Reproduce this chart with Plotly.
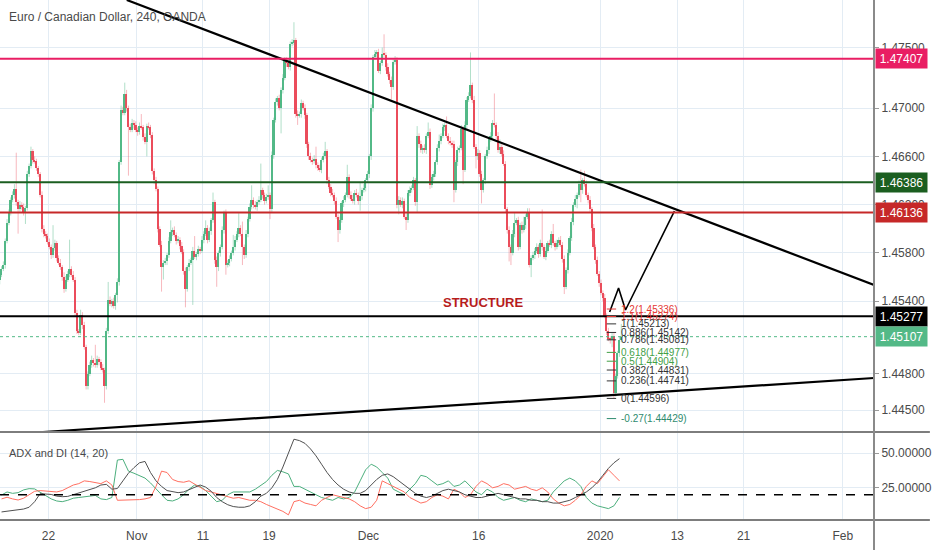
import plotly.graph_objects as go

# ---------------- data (4h bars, EUR/CAD) ----------------
first_open = 1.4558
close = [
    1.4562, 1.4567, 1.4570, 1.4590, 1.4605, 1.4614, 1.4624, 1.4628, 1.4633, 1.4622, 1.4616, 1.4620,
    1.4618, 1.4614, 1.4617, 1.4645, 1.4652, 1.4664, 1.4657, 1.4656, 1.4650, 1.4645, 1.4628, 1.4600,
    1.4596, 1.4594, 1.4589, 1.4585, 1.4578, 1.4584, 1.4588, 1.4576, 1.4572, 1.4568, 1.4560, 1.4550,
    1.4558, 1.4563, 1.4567, 1.4562, 1.4558, 1.4530, 1.4515, 1.4514, 1.4529, 1.4520, 1.4502, 1.4470,
    1.4480, 1.4487, 1.4491, 1.4489, 1.4487, 1.4492, 1.4490, 1.4485, 1.4483, 1.4470, 1.4515, 1.4541,
    1.4538, 1.4540, 1.4536, 1.4545, 1.4556, 1.4655, 1.4698, 1.4696, 1.4712, 1.4700, 1.4684, 1.4682,
    1.4688, 1.4686, 1.4682, 1.4680, 1.4685, 1.4684, 1.4676, 1.4672, 1.4685, 1.4684, 1.4678, 1.4648,
    1.4640, 1.4633, 1.4600, 1.4587, 1.4568, 1.4572, 1.4573, 1.4578, 1.4590, 1.4597, 1.4599, 1.4595,
    1.4590, 1.4591, 1.4586, 1.4581, 1.4565, 1.4550, 1.4568, 1.4572, 1.4574, 1.4582, 1.4577, 1.4579,
    1.4583, 1.4582, 1.4591, 1.4596, 1.4601, 1.4591, 1.4598, 1.4607, 1.4622, 1.4574, 1.4568, 1.4580,
    1.4585, 1.4599, 1.4613, 1.4570, 1.4572, 1.4575, 1.4580, 1.4585, 1.4591, 1.4596, 1.4601, 1.4596,
    1.4585, 1.4578, 1.4596, 1.4608, 1.4618, 1.4624, 1.4620, 1.4618, 1.4622, 1.4624, 1.4632, 1.4628,
    1.4623, 1.4626, 1.4628, 1.4616, 1.4661, 1.4690, 1.4705, 1.4708, 1.4700, 1.4715, 1.4725, 1.4740,
    1.4737, 1.4734, 1.4753, 1.4754, 1.4756, 1.4695, 1.4694, 1.4695, 1.4704, 1.4700, 1.4694, 1.4670,
    1.4660, 1.4657, 1.4656, 1.4658, 1.4653, 1.4650, 1.4649, 1.4657, 1.4660, 1.4664, 1.4640, 1.4635,
    1.4630, 1.4628, 1.4623, 1.4610, 1.4599, 1.4607, 1.4621, 1.4624, 1.4628, 1.4643, 1.4628, 1.4625,
    1.4623, 1.4630, 1.4628, 1.4623, 1.4627, 1.4632, 1.4634, 1.4640, 1.4645, 1.4660, 1.4700, 1.4742,
    1.4745, 1.4746, 1.4731, 1.4737, 1.4745, 1.4744, 1.4734, 1.4728, 1.4723, 1.4717, 1.4738, 1.4740,
    1.4620, 1.4624, 1.4620, 1.4623, 1.4610, 1.4607, 1.4630, 1.4632, 1.4634, 1.4640, 1.4622, 1.4677,
    1.4670, 1.4665, 1.4667, 1.4665, 1.4677, 1.4680, 1.4636, 1.4643, 1.4645, 1.4655, 1.4667, 1.4673,
    1.4677, 1.4684, 1.4686, 1.4677, 1.4673, 1.4671, 1.4670, 1.4632, 1.4655, 1.4665, 1.4667, 1.4683,
    1.4649, 1.4686, 1.4707, 1.4710, 1.4719, 1.4707, 1.4668, 1.4660, 1.4663, 1.4645, 1.4632, 1.4640,
    1.4660, 1.4665, 1.4674, 1.4677, 1.4688, 1.4686, 1.4677, 1.4665, 1.4668, 1.4662, 1.4654, 1.4616,
    1.4599, 1.4585, 1.4580, 1.4596, 1.4605, 1.4607, 1.4585, 1.4603, 1.4599, 1.4603, 1.4610, 1.4614,
    1.4570, 1.4576, 1.4578, 1.4582, 1.4585, 1.4579, 1.4588, 1.4585, 1.4577, 1.4582, 1.4588, 1.4587,
    1.4596, 1.4588, 1.4585, 1.4588, 1.4591, 1.4587, 1.4575, 1.4552, 1.4566, 1.4580, 1.4592, 1.4606,
    1.4620, 1.4625, 1.4628, 1.4637, 1.4632, 1.4640, 1.4637, 1.4628, 1.4624, 1.4616, 1.4601, 1.4585,
    1.4574, 1.4563, 1.4555, 1.4547, 1.4543, 1.4528, 1.4515, 1.4509, 1.4508, 1.4511, 1.4464, 1.4478,
    1.4497, 1.4508, 1.45107,
]
# wick lengths beyond the body, in pips (0.0001)
wick_up_pips = [
    3, 2, 3, 2, 3, 2, 2, 3, 4, 30, 2, 3,
    2, 3, 2, 3, 2, 4, 2, 3, 2, 2, 2, 3,
    3, 2, 2, 3, 2, 19, 3, 2, 2, 3, 2, 4,
    3, 2, 24, 2, 3, 2, 3, 2, 4, 2, 3, 2,
    2, 3, 4, 2, 15, 3, 2, 2, 3, 2, 3, 15,
    3, 2, 3, 2, 3, 2, 4, 3, 9, 3, 2, 3,
    3, 2, 3, 2, 3, 10, 2, 3, 2, 3, 2, 2,
    2, 3, 2, 2, 3, 2, 3, 2, 3, 10, 2, 3,
    2, 3, 2, 3, 2, 3, 2, 3, 2, 3, 12, 2,
    3, 2, 3, 2, 6, 2, 3, 2, 8, 2, 3, 2,
    2, 3, 2, 3, 2, 3, 2, 10, 3, 2, 12, 2,
    10, 2, 3, 2, 3, 12, 2, 3, 2, 3, 22, 2,
    2, 3, 8, 2, 3, 2, 3, 2, 3, 2, 3, 2,
    2, 3, 2, 3, 15, 2, 3, 2, 3, 2, 3, 2,
    2, 3, 2, 3, 10, 2, 3, 2, 3, 8, 2, 3,
    2, 3, 2, 3, 2, 3, 2, 3, 2, 10, 2, 3,
    3, 2, 3, 2, 12, 2, 3, 2, 3, 2, 3, 2,
    3, 2, 3, 2, 5, 16, 2, 3, 2, 3, 2, 3,
    2, 3, 2, 3, 2, 3, 2, 3, 2, 3, 2, 8,
    2, 3, 2, 3, 2, 8, 3, 2, 3, 2, 3, 5,
    2, 3, 2, 7, 2, 3, 2, 3, 2, 3, 2, 3,
    2, 3, 2, 3, 27, 2, 3, 2, 3, 2, 3, 2,
    2, 3, 2, 3, 2, 24, 2, 3, 6, 2, 3, 2,
    2, 3, 2, 3, 8, 2, 3, 2, 3, 7, 2, 3,
    3, 2, 3, 2, 3, 2, 3, 28, 2, 3, 2, 3,
    2, 8, 2, 3, 2, 3, 2, 3, 2, 3, 2, 3,
    2, 3, 2, 3, 12, 2, 8, 3, 2, 3, 2, 3,
    2, 3, 2, 3, 2, 3, 2, 3, 2, 3, 3, 2,
    2, 3, 10.6,
]
wick_dn_pips = [
    4, 2, 2, 3, 2, 2, 3, 2, 3, 3, 20, 2,
    2, 3, 10, 2, 2, 2, 3, 2, 2, 2, 2, 3,
    3, 2, 2, 2, 3, 2, 2, 3, 2, 2, 3, 3,
    2, 2, 3, 2, 2, 3, 2, 2, 2, 3, 2, 3,
    3, 2, 2, 3, 2, 2, 3, 2, 2, 14, 3, 2,
    2, 3, 2, 3, 6, 3, 2, 2, 2, 3, 40, 2,
    2, 3, 2, 3, 2, 2, 3, 2, 12, 2, 3, 3,
    3, 2, 3, 2, 20, 10, 2, 3, 2, 2, 3, 2,
    3, 2, 3, 2, 3, 15, 2, 3, 2, 37, 2, 3,
    2, 3, 2, 3, 2, 3, 2, 3, 2, 3, 16, 3,
    3, 2, 3, 8, 2, 3, 2, 2, 3, 2, 3, 2,
    15, 3, 2, 3, 2, 2, 3, 2, 3, 2, 2, 3,
    3, 2, 2, 8, 2, 3, 2, 3, 2, 21, 3, 2,
    3, 2, 3, 2, 2, 3, 8, 2, 3, 2, 3, 3,
    3, 2, 3, 2, 3, 2, 2, 3, 2, 2, 3, 2,
    3, 2, 3, 2, 10, 3, 2, 3, 2, 2, 3, 2,
    2, 3, 2, 3, 8, 3, 2, 3, 2, 3, 3, 3,
    2, 3, 2, 3, 2, 2, 3, 2, 3, 10, 2, 2,
    3, 8, 2, 3, 2, 8, 2, 3, 2, 2, 3, 8,
    3, 2, 3, 2, 3, 2, 3, 2, 3, 2, 2, 3,
    3, 2, 3, 2, 3, 2, 3, 10, 2, 3, 2, 2,
    12, 2, 3, 2, 2, 3, 2, 10, 3, 2, 11, 2,
    3, 2, 3, 2, 3, 2, 3, 2, 3, 2, 2, 3,
    3, 12, 10, 2, 3, 2, 3, 2, 3, 2, 3, 2,
    2, 10, 2, 3, 2, 3, 2, 3, 2, 3, 2, 2,
    3, 2, 3, 2, 3, 2, 3, 6, 2, 3, 2, 2,
    3, 2, 8, 2, 10, 3, 2, 2, 3, 2, 3, 2,
    3, 2, 3, 2, 3, 2, 3, 2, 3, 6, 4.4, 3,
    2, 3, 2,
]

# ADX and DI (14, 20) sampled every 3 bars
adx = [
    7.6, 8.2, 8.8, 9.3, 9.7, 11, 15, 20.8, 20.7, 20.2,
    19, 18.6, 18.8, 20, 21.5, 22.3, 23.5, 25, 27, 27.5,
    24, 24.5, 30, 35.5, 39.5, 43, 44, 36, 30, 26,
    23, 22, 21.5, 22, 23.5, 25, 27, 25.5, 22.5, 18,
    15, 12.8, 11.5, 11, 11, 12, 15, 19, 21, 25,
    31, 40, 50, 60, 59, 57, 53, 48, 42, 36,
    31, 27, 24, 22, 21, 21, 23, 27, 31, 34,
    35, 33, 30, 27, 24, 21, 19, 18, 19, 21,
    23, 24, 23, 22, 20, 19, 18, 18, 19, 20,
    21, 20, 19, 18, 17, 17, 16, 16, 15, 15,
    14, 14, 15, 16, 18, 20, 22, 25, 29, 34,
    39, 43, 46,
]
di_plus = [
    19.8, 22, 21, 21.5, 23.5, 24.4, 24.2, 22, 19.5, 17,
    15.5, 15, 16, 17.5, 18, 18.5, 19, 19.5, 17, 16.5,
    18, 45, 45.5, 37, 35.5, 34, 32, 28.5, 24, 20,
    16, 15.5, 17, 20, 24, 27, 26, 23, 19, 15,
    16, 20, 22, 22, 21.5, 22, 24, 27, 29.5, 34,
    37.5, 36.5, 35, 26, 26, 24, 22, 20, 18, 17,
    16, 18, 17, 18, 22, 30, 38, 42, 40, 36,
    32, 24, 22, 20, 24, 28, 34, 33, 30, 27,
    28, 30, 26, 27, 30, 26, 22, 20, 24, 22,
    18, 16, 17, 18, 16, 15, 17, 16, 15, 16,
    22, 26, 30, 32, 30, 26, 18, 14, 12, 11,
    10, 12, 18,
]
di_minus = [
    17, 18.2, 17, 16.2, 17.5, 20, 22.5, 23, 22.5, 22.5,
    22, 23, 25, 27, 28, 30, 29.5, 28.5, 28, 30,
    27, 16, 16, 16.5, 16, 16.5, 17, 18, 26, 37,
    36, 31, 29.5, 29, 30, 27.5, 25, 23, 22, 21,
    19.5, 18.5, 17.5, 18, 17, 16, 16, 15, 13, 11.5,
    10, 8, 5.5, 15, 16, 14, 13, 12, 16, 18,
    20, 19, 18, 17, 15, 12, 10, 11, 16, 30,
    28, 26, 24, 22, 18, 16, 14, 15, 18, 20,
    19, 17, 24, 22, 18, 20, 26, 30, 28, 25,
    26, 28, 27, 24, 25, 26, 24, 23, 25, 22,
    17, 14, 12, 13, 16, 20, 26, 30, 28, 33,
    38, 34, 30,
]
adx_threshold = 20

# time axis: trading days counted from Nov 1 (weekends / Dec 25 / Jan 1 skipped)
first_bar_day = -12.5
bars_per_day = 6
adx_step = 3
tick_days = [-8, 0, 6, 12, 21, 31, 42, 49, 55, 64]
tick_text = ["22", "Nov", "11", "19", "Dec", "16", "2020", "13", "21", "Feb"]
x_range = [-12.39, 66.82]

price_range = [1.44318, 1.47894]
price_ticks = [1.445, 1.448, 1.454, 1.458, 1.462, 1.466, 1.470, 1.475]
adx_range = [1.8, 65.2]
adx_ticks = [25, 50]

# horizontal levels drawn on the chart
levels = [1.47407, 1.46386, 1.46136, 1.45277, 1.45107]
level_colors = ["#e91e63", "#1b5e20", "#c62828", "#000000", "#53b987"]

# Fibonacci retracement
fib_ratio_text = ["1.2", "1.1", "1", "0.886", "0.786", "0.618", "0.5", "0.382", "0.236", "0", "-0.27"]
fib_prices = [1.45336, 1.45274, 1.45213, 1.45142, 1.45081, 1.44977, 1.44904, 1.44831, 1.44741, 1.44596, 1.44429]
fib_colors = ["#e53935", "#e53935", "#333333", "#333333", "#333333", "#43a047", "#43a047",
              "#333333", "#333333", "#333333", "#2e8b6e"]
fib_x = [42.6, 43.45]
fib_label_x = 43.8

# trend lines / drawings (trading day, price)
trend_down = ([-0.9, 66.82], [1.47894, 1.45535])
trend_up = ([-8.5, 66.82], [1.44318, 1.44765])
projection = ([42.86, 43.67, 44.30, 48.73], [1.45311, 1.45510, 1.45328, 1.46147])
structure_pos = (31.4, 1.45394)

# ---------------- figure ----------------
UP, DN = "#53b987", "#eb4d5c"
UPW, DNW = "rgba(83,185,135,0.45)", "rgba(235,77,92,0.40)"
GRID = "#e3ecf4"
TXT = "#4a4a4a"
REG = "Liberation Sans, Arial, sans-serif"

n = len(close)
bar_x = [first_bar_day + (i + 0.5) / bars_per_day for i in range(n)]
opens = [first_open] + close[:-1]
highs = [max(o, c) + u * 1e-4 for o, c, u in zip(opens, close, wick_up_pips)]
lows = [min(o, c) - d * 1e-4 for o, c, d in zip(opens, close, wick_dn_pips)]
is_up = [c >= o for o, c in zip(opens, close)]

fig = go.Figure()
for flag, col in [(True, UPW), (False, DNW)]:
    xs, ys = [], []
    for i in range(n):
        if is_up[i] == flag:
            xs += [bar_x[i], bar_x[i], None]
            ys += [lows[i], highs[i], None]
    fig.add_trace(go.Scatter(x=xs, y=ys, mode="lines", line=dict(color=col, width=1),
                             hoverinfo="skip", xaxis="x", yaxis="y"))

fig.add_trace(go.Bar(
    x=bar_x, base=[min(o, c) for o, c in zip(opens, close)],
    y=[max(abs(c - o), 0.00003) for o, c in zip(opens, close)],
    width=0.9 / bars_per_day,
    marker=dict(color=[UP if u else DN for u in is_up], line=dict(width=0)),
    xaxis="x", yaxis="y", hoverinfo="skip"))

for xs, ys in [trend_down, trend_up]:
    fig.add_trace(go.Scatter(x=xs, y=ys, mode="lines", line=dict(color="#000000", width=2.2),
                             xaxis="x", yaxis="y", hoverinfo="skip"))
fig.add_trace(go.Scatter(x=projection[0], y=projection[1], mode="lines",
                         line=dict(color="#000000", width=1.6), xaxis="x", yaxis="y", hoverinfo="skip"))

adx_x = [first_bar_day + (adx_step * k + 1.5) / bars_per_day for k in range(len(adx))]
fig.add_trace(go.Scatter(x=adx_x, y=di_plus, mode="lines", line=dict(color="#4caf7d", width=1),
                         xaxis="x2", yaxis="y2", hoverinfo="skip"))
fig.add_trace(go.Scatter(x=adx_x, y=di_minus, mode="lines", line=dict(color="#ff6f61", width=1),
                         xaxis="x2", yaxis="y2", hoverinfo="skip"))
fig.add_trace(go.Scatter(x=adx_x, y=adx, mode="lines", line=dict(color="#505050", width=1),
                         xaxis="x2", yaxis="y2", hoverinfo="skip"))

plot_h = 550 - 30
main_bottom = (plot_h - 432) / plot_h
right_px = 876

shapes = []
for lv, col in zip(levels, level_colors):
    if col == "#53b987":
        shapes.append(dict(type="line", xref="paper", yref="y", x0=0, x1=1, y0=lv, y1=lv,
                           line=dict(color=col, width=1, dash="dot"), layer="above"))
    else:
        shapes.append(dict(type="line", xref="paper", yref="y", x0=0, x1=1, y0=lv, y1=lv,
                           line=dict(color=col, width=2), layer="above"))
for fp, fc in zip(fib_prices, fib_colors):
    shapes.append(dict(type="line", xref="x", yref="y", x0=fib_x[0], x1=fib_x[1], y0=fp, y1=fp,
                       line=dict(color=fc, width=1), layer="above"))
shapes.append(dict(type="line", xref="paper", yref="y2", x0=0, x1=1, y0=adx_threshold, y1=adx_threshold,
                   line=dict(color="#000000", width=1.5, dash="dash"), layer="above"))
# pane separators and price-scale border
shapes.append(dict(type="line", xref="paper", yref="paper", x0=0, x1=932 / right_px, y0=main_bottom, y1=main_bottom,
                   line=dict(color="#7d7d7d", width=2)))
shapes.append(dict(type="line", xref="paper", yref="paper", x0=0, x1=932 / right_px, y0=0, y1=0,
                   line=dict(color="#7d7d7d", width=2)))
shapes.append(dict(type="line", xref="paper", yref="paper", x0=1, x1=1, y0=-30 / plot_h, y1=1,
                   line=dict(color="#8a8a8a", width=2)))

annotations = [
    dict(text="Euro / Canadian Dollar, 240, OANDA", xref="paper", yref="paper", x=7 / right_px,
         y=(plot_h - 17) / plot_h, xanchor="left", yanchor="middle", showarrow=False,
         font=dict(family=REG, size=12, color=TXT)),
    dict(text="ADX and DI (14, 20)", xref="paper", yref="paper", x=7 / right_px,
         y=(plot_h - 453) / plot_h, xanchor="left", yanchor="middle", showarrow=False,
         font=dict(family=REG, size=11, color=TXT)),
    dict(text="<b>STRUCTURE</b>", xref="x", yref="y", x=structure_pos[0], y=structure_pos[1],
         xanchor="center", yanchor="middle", showarrow=False,
         font=dict(family=REG, size=13, color="#b71c1c")),
]
for rt, fp, fc in zip(fib_ratio_text, fib_prices, fib_colors):
    annotations.append(dict(text=f"{rt}({fp:.5f})", xref="x", yref="y", x=fib_label_x, y=fp,
                            xanchor="left", yanchor="middle", showarrow=False, borderpad=0,
                            font=dict(family=REG, size=10, color=fc)))
for lv, col in zip(levels, level_colors):
    annotations.append(dict(text=f"{lv:.5f}", xref="paper", yref="y", x=1, y=lv, xshift=1,
                            xanchor="left", yanchor="middle", showarrow=False, bgcolor=col,
                            width=47, height=15, align="center", borderpad=2,
                            font=dict(family=REG, size=12, color="#ffffff")))

fig.update_layout(
    width=932, height=550, margin=dict(l=0, r=56, t=0, b=30),
    paper_bgcolor="white", plot_bgcolor="white", showlegend=False,
    barmode="overlay", bargap=0, hovermode=False,
    font=dict(family=REG, size=12, color=TXT),
    xaxis=dict(domain=[0, 1], range=x_range, tickvals=tick_days, showticklabels=False,
               showgrid=True, gridcolor=GRID, zeroline=False, anchor="y", showline=False),
    yaxis=dict(domain=[main_bottom, 1], range=price_range, side="right", tickvals=price_ticks,
               ticktext=[f"{v:.5f}" for v in price_ticks], ticks="outside", ticklen=4,
               tickcolor="#9a9a9a", gridcolor=GRID, zeroline=False, anchor="x", showline=False,
               tickfont=dict(family=REG, size=12, color=TXT)),
    xaxis2=dict(domain=[0, 1], range=x_range, matches="x", anchor="y2", tickvals=tick_days,
                ticktext=tick_text, ticks="outside", ticklen=5, tickcolor="rgba(0,0,0,0)",
                showgrid=True, gridcolor=GRID, zeroline=False, showline=False,
                tickfont=dict(family=REG, size=12, color=TXT)),
    yaxis2=dict(domain=[0, main_bottom], range=adx_range, side="right", tickvals=adx_ticks,
                ticktext=[f"{v:.5f}" for v in adx_ticks], ticks="outside", ticklen=4,
                tickcolor="#9a9a9a", gridcolor=GRID, zeroline=False, anchor="x2", showline=False,
                tickfont=dict(family=REG, size=12, color=TXT)),
    shapes=shapes, annotations=annotations,
)

fig.write_html("out.html", config={"displayModeBar": False},
               post_script="document.body.style.margin='0';document.body.style.overflow='hidden';")
